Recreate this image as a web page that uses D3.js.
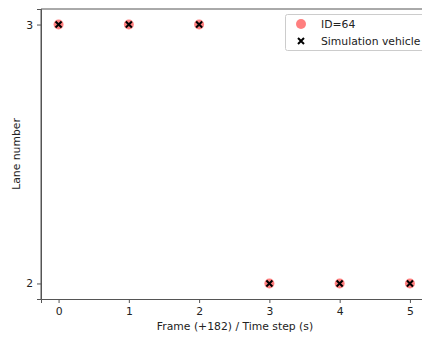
<!DOCTYPE html>
<html><head><meta charset="utf-8">
<script src="https://cdn.jsdelivr.net/npm/d3@7"></script>
<style>body{margin:0;background:#fff}svg{display:block}text{font-family:"DejaVu Sans",sans-serif}</style>
</head><body><svg id="c" width="422" height="337"></svg>
<script>
const frames = [0, 1, 2, 3, 4, 5];
const laneID64 = [3, 3, 3, 2, 2, 2];
const laneSim = [3, 3, 3, 2, 2, 2];
const xTicks = [0, 1, 2, 3, 4, 5];
const yTicks = [2, 3];
const legendLabels = ["ID=64", "Simulation vehicle"];

const svg = d3.select("#c");
const x = d3.scaleLinear().domain([-0.25, 5.25]).range([41, 427.5]);
const y = d3.scaleLinear().domain([1.94, 3.06]).range([299, 9]);
const axisColor = "#555";
const fs = "10.8px";

// spines
svg.append("line").attr("x1", 41).attr("x2", 41).attr("y1", 9).attr("y2", 299).attr("stroke", axisColor).attr("stroke-width", 1);
svg.append("line").attr("x1", 41).attr("x2", 422).attr("y1", 9).attr("y2", 9).attr("stroke", axisColor).attr("stroke-width", 1);

const gx = svg.append("g").attr("transform", "translate(0,299)")
  .call(d3.axisBottom(x).tickValues(xTicks).tickFormat(d3.format("d")).tickSize(4).tickPadding(4));
const gy = svg.append("g").attr("transform", "translate(41,0)")
  .call(d3.axisLeft(y).tickValues(yTicks).tickFormat(d3.format("d")).tickSize(4).tickPadding(4));
[gx, gy].forEach(g => {
  g.select(".domain").attr("stroke", axisColor);
  g.selectAll(".tick line").attr("stroke", axisColor);
  g.selectAll(".tick text").attr("fill", "#222").style("font-size", fs).style("font-family", "DejaVu Sans");
});

// points
svg.append("g").selectAll("circle").data(frames).join("circle")
  .attr("cx", (d) => x(d)).attr("cy", (d, i) => y(laneID64[i])).attr("r", 5)
  .attr("fill", "#ff0000").attr("fill-opacity", 0.5);
const xs = 3;
const sim = svg.append("g");
frames.forEach((d, i) => {
  const cx = x(d), cy = y(laneSim[i]);
  sim.append("path").attr("d", `M${cx-xs},${cy-xs}L${cx+xs},${cy+xs}M${cx-xs},${cy+xs}L${cx+xs},${cy-xs}`)
    .attr("stroke", "#000").attr("stroke-width", 2);
});

// axis labels
svg.append("text").attr("x", 235).attr("y", 330).attr("text-anchor", "middle")
  .style("font-size", fs).attr("fill", "#222").text("Frame (+182) / Time step (s)");
svg.append("text").attr("transform", "translate(20,154) rotate(-90)").attr("text-anchor", "middle")
  .style("font-size", fs).attr("fill", "#222").text("Lane number");

// legend
const lg = svg.append("g");
lg.append("rect").attr("x", 285.5).attr("y", 14.5).attr("width", 150).attr("height", 36).attr("rx", 2)
  .attr("fill", "#fff").attr("fill-opacity", 0.8).attr("stroke", "#ccc");
lg.append("circle").attr("cx", 301).attr("cy", 24).attr("r", 5).attr("fill", "#ff0000").attr("fill-opacity", 0.5);
lg.append("path").attr("d", `M${301-xs},${41-xs}L${301+xs},${41+xs}M${301-xs},${41+xs}L${301+xs},${41-xs}`)
  .attr("stroke", "#000").attr("stroke-width", 2);
lg.selectAll("text").data(legendLabels).join("text")
  .attr("x", 321).attr("y", (d, i) => 27.5 + i * 17).style("font-size", fs).attr("fill", "#222").text(d => d);
</script></body></html>
